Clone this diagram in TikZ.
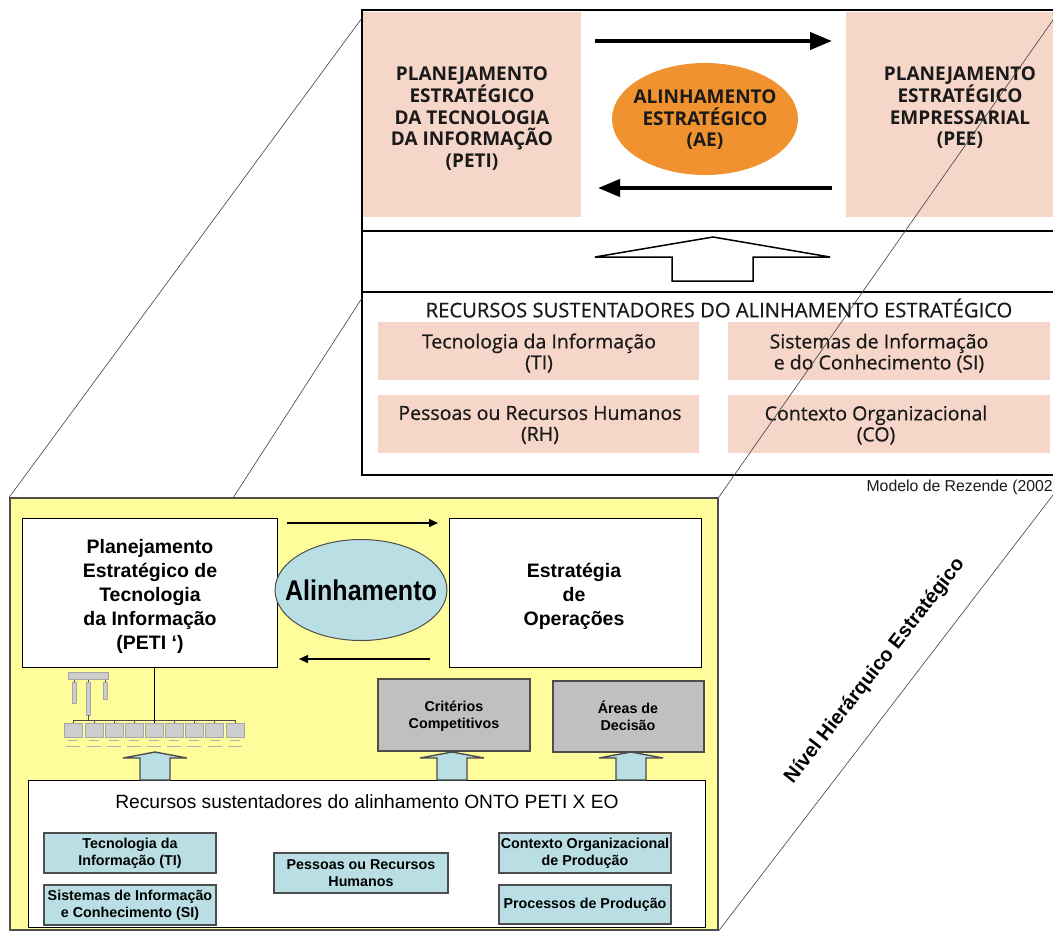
\documentclass[tikz,border=0pt]{standalone}
\usepackage{fontspec}
\setmainfont{Liberation Sans}
\newfontfamily\osans{Open Sans}
\newfontfamily\osmed[FakeBold=0.6]{Open Sans}
\newfontfamily\narrowf[FakeStretch=0.88]{Liberation Sans}
\usetikzlibrary{arrows.meta,shapes.geometric}
\definecolor{pinkbox}{HTML}{F5D6C8}
\definecolor{orangeE}{HTML}{F0922F}
\definecolor{yellowbg}{HTML}{FFFC9C}
\definecolor{lblue}{HTML}{B9DFE4}
\definecolor{grayb}{HTML}{C0C0C0}
\definecolor{framegray}{HTML}{4D4D4D}
\definecolor{txtdark}{HTML}{1A1A1A}
\tikzset{
  pinkb/.style={fill=pinkbox, draw=none, inner sep=0pt, outer sep=0pt},
  captxt/.style={font={\osans\bfseries\fontsize{19}{21.5}\selectfont}, align=center, text=txtdark, inner sep=0pt},
  pinktxt/.style={font={\osmed\fontsize{19.5}{21}\selectfont}, align=center, text=txtdark, inner sep=0pt},
  whitebox/.style={fill=white, draw=black, line width=1pt, inner sep=0pt, outer sep=0pt},
  lowtxt/.style={font={\bfseries\fontsize{19.5}{24}\selectfont}, align=center, inner sep=0pt},
  graybox/.style={fill=grayb, draw=framegray, line width=1.3pt, inner sep=0pt, outer sep=0pt},
  smalltxt/.style={font={\bfseries\fontsize{14.3}{17}\selectfont}, align=center, inner sep=0pt},
  bluebox/.style={fill=lblue, draw=framegray, line width=1.2pt, inner sep=0pt, outer sep=0pt},
  blockarrow/.style={fill=lblue, draw=framegray, line width=1.4pt, line join=miter},
  orgbox/.style={fill=grayb!80, draw=gray!70, line width=0.4pt, inner sep=0pt, outer sep=0pt},
  orgline/.style={draw=gray!60!black, line width=0.5pt},
  persp/.style={draw=black!75, line width=0.6pt},
  thickarrow/.style={line width=4pt, -{Triangle[length=22pt,width=17pt]}},
  thinarrow/.style={line width=1.4pt, -{Triangle[length=9pt,width=8pt]}},
}
\begin{document}
\begin{tikzpicture}[x=1pt,y=-1pt]
\useasboundingbox (0,0) rectangle (1053,935);
\fill[white] (0,0) rectangle (1053,935);

% ---------------- upper panel ----------------
\node[pinkb, minimum width=218, minimum height=205] (peti) at (472,114.5) {};
\node[pinkb, minimum width=207, minimum height=205] (pee) at (949.5,114.5) {};
\node[captxt] (petitxt) at (472,118.5) {PLANEJAMENTO\\ESTRATÉGICO\\DA TECNOLOGIA\\DA INFORMAÇÃO\\(PETI)};
\node[captxt] (peetxt) at (960,107.5) {PLANEJAMENTO\\ESTRATÉGICO\\EMPRESSARIAL\\(PEE)};
\node[ellipse, fill=orangeE, minimum width=186, minimum height=112, inner sep=0pt] (ae) at (705,119) {};
\node[captxt] (aetxt) at (705,120) {ALINHAMENTO\\ESTRATÉGICO\\(AE)};
\coordinate (ta1) at (595,41);
\coordinate (ta2) at (832,41);
\coordinate (ba1) at (832,188);
\coordinate (ba2) at (598,188);
\draw[thickarrow] (ta1) -- (ta2);
\draw[thickarrow] (ba1) -- (ba2);

% frame of upper panel
\draw[line width=1.2pt] (1053,10) -- (362,10) -- (362,475) -- (1053,475);
\draw[line width=1.6pt] (362,231) -- (1053,231);
\draw[line width=1.6pt] (362,292) -- (1053,292);

% hollow up arrow
\draw[line width=1.5pt, line join=miter] (595,257) -- (713,237) -- (830,257) -- (753,257) -- (753,281) -- (672,281) -- (672,257) -- cycle;

% resources box
\node[font={\osmed\fontsize{20.2}{22}\selectfont}, text=txtdark, inner sep=0pt] (rtitle) at (719,308) {RECURSOS SUSTENTADORES DO ALINHAMENTO ESTRATÉGICO};
\node[pinkb, minimum width=321, minimum height=58] (rti) at (538.5,351) {};
\node[pinkb, minimum width=322, minimum height=58] (rsi) at (889,351) {};
\node[pinkb, minimum width=321, minimum height=58] (rrh) at (538.5,424) {};
\node[pinkb, minimum width=322, minimum height=58] (rco) at (889,424) {};
\node[pinktxt] (tti) at (539,353) {Tecnologia da Informação\\(TI)};
\node[pinktxt] (tsi) at (879,353) {Sistemas de Informação\\e do Conhecimento (SI)};
\node[pinktxt] (trh) at (540,425) {Pessoas ou Recursos Humanos\\(RH)};
\node[pinktxt] (tco) at (876,425) {Contexto Organizacional\\(CO)};
\node[anchor=east, font={\fontsize{15.8}{17}\selectfont}, text=txtdark, inner sep=0pt] (modelo) at (1053,487) {Modelo de Rezende (2002};

% ---------------- lower panel ----------------
\node[fill=yellowbg, draw=framegray, line width=1.5pt, minimum width=708, minimum height=432, inner sep=0pt] (yel) at (364,714) {};

\node[whitebox, minimum width=255, minimum height=149] (peti2) at (149.5,592.5) {};
\node[lowtxt] (peti2txt) at (150,596) {Planejamento\\Estratégico de\\Tecnologia\\da Informação\\(PETI ‘)};
\node[whitebox, minimum width=252, minimum height=149] (eo) at (575,592.5) {};
\node[lowtxt] (eotxt) at (574,596) {Estratégia\\de\\Operações};
\node[ellipse, fill=lblue, draw=framegray, line width=1pt, minimum width=172, minimum height=101, inner sep=0pt] (alin) at (361,590) {};
\node[font={\narrowf\bfseries\fontsize{28.5}{30}\selectfont}, inner sep=0pt] (alintxt) at (361,590) {Alinhamento};
\coordinate (la1) at (287,523);
\coordinate (la2) at (438,523);
\coordinate (lb1) at (430,659);
\coordinate (lb2) at (299,659);
\draw[thinarrow] (la1) -- (la2);
\draw[thinarrow] (lb1) -- (lb2);

% org chart miniature
\node[orgbox, minimum width=40, minimum height=7] (oc0) at (88,676) {};
\node[orgbox, minimum width=4, minimum height=21] (ov1) at (74,692.5) {};
\node[orgbox, minimum width=4, minimum height=33] (ov2) at (88.5,698.5) {};
\node[orgbox, minimum width=4, minimum height=17] (ov3) at (105,690.5) {};
\draw[orgline] (oc0.south -| ov1) -- (ov1.north);
\draw[orgline] (oc0.south -| ov2) -- (ov2.north);
\draw[orgline] (oc0.south -| ov3) -- (ov3.north);
\coordinate (hl1) at (73,720);
\coordinate (hl2) at (236,720);
\draw[orgline] (hl1) -- (hl2);
\draw[orgline] (ov2.south) -- (ov2.south |- hl1);
\foreach \i/\cx in {1/73,2/94,3/114,4/134,5/154,6/174,7/194,8/214.5,9/235}{
  \node[orgbox, minimum width=18, minimum height=14] (ob\i) at (\cx,730) {};
  \draw[orgline] (ob\i.north |- hl1) -- (ob\i.north);
  \draw[gray!60, line width=0.8pt] (\cx-5,740.5) -- (\cx+5,740.5);
  \draw[gray!60, line width=0.8pt] (\cx-7,746.5) -- (\cx+7,746.5);
}
\draw[line width=1pt] (peti2.south -| ob5) -- (ob5.north);

% grey boxes
\node[graybox, minimum width=152, minimum height=72] (crit) at (454,715) {};
\node[smalltxt] (crittxt) at (454,716) {Critérios\\Competitivos};
\node[graybox, minimum width=151, minimum height=71] (areas) at (628.5,716.5) {};
\node[smalltxt] (areastxt) at (628,716) {Áreas de\\Decisão};

% bottom box
\node[whitebox, minimum width=677, minimum height=147] (rec) at (366.5,853.5) {};
\node[font={\fontsize{19.2}{21}\selectfont}, inner sep=0pt] (rectitle) at (367,802) {Recursos sustentadores do alinhamento ONTO PETI X EO};

% block arrows
\foreach \cx in {155,452,631}{
  \draw[blockarrow] (\cx-32,758) -- (\cx,752) -- (\cx+32,758) -- (\cx+15,758) -- (\cx+15,780) -- (\cx-15,780) -- (\cx-15,758) -- cycle;
}

\node[bluebox, minimum width=172, minimum height=40] (bti) at (130,853) {};
\node[smalltxt] (btitxt) at (130,853) {Tecnologia da\\Informação (TI)};
\node[bluebox, minimum width=172, minimum height=40] (bsi) at (130,905) {};
\node[smalltxt] (bsitxt) at (130,905) {Sistemas de Informação\\e Conhecimento (SI)};
\node[bluebox, minimum width=174, minimum height=40] (brh) at (361,873) {};
\node[smalltxt] (brhtxt) at (361,873) {Pessoas ou Recursos\\Humanos};
\node[bluebox, minimum width=172, minimum height=40] (bco) at (585,853) {};
\node[smalltxt] (bcotxt) at (585,853) {Contexto Organizacional\\de Produção};
\node[bluebox, minimum width=172, minimum height=39] (bpp) at (585,904.5) {};
\node[smalltxt] (bpptxt) at (585,904.5) {Processos de Produção};

% perspective lines
\draw[persp] (yel.north west) -- (362,18);
\draw[persp] (233,498) -- (362,298);
\draw[persp] (yel.north east) -- (1053,20);
\draw[persp] (yel.south east) -- (1053,495);

\node[rotate=52, font={\bfseries\fontsize{20}{22}\selectfont}, inner sep=0pt] (nivel) at (875,671) {Nível Hierárquico Estratégico};
\end{tikzpicture}
\end{document}
